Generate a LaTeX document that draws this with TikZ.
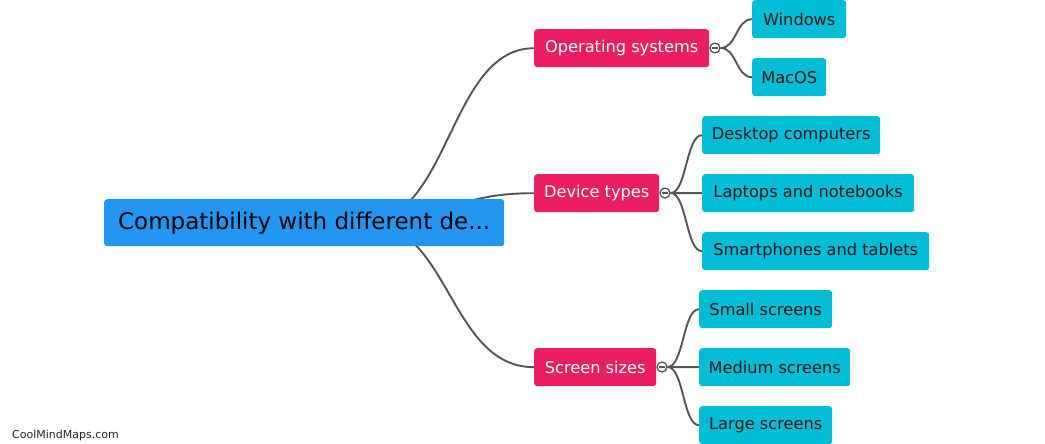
\documentclass[tikz,border=0pt]{standalone}
\usepackage{fontspec}
\setmainfont{DejaVu Sans}
\usetikzlibrary{backgrounds}
\definecolor{rootc}{HTML}{2196F3}
\definecolor{midc}{HTML}{E91E63}
\definecolor{leafc}{HTML}{00BCD4}
\definecolor{linec}{HTML}{555555}
\begin{document}
\begin{tikzpicture}[x=1pt,y=-1pt,
  box/.style={rounded corners=3pt, inner sep=0pt, anchor=north west, minimum height=38pt},
  rootbox/.style={box, fill=rootc, text=black, minimum height=47pt, font=\fontsize{23}{27}\selectfont},
  midbox/.style={box, fill=midc, text=white, font=\fontsize{16.2}{19}\selectfont},
  leafbox/.style={box, fill=leafc, text=black!90, font=\fontsize{16.2}{19}\selectfont},
  conn/.style={draw=linec, line width=1.9pt},
  toggle/.style={circle, draw=linec, fill=white, line width=1.3pt, minimum size=10pt, inner sep=0pt},
  minusbar/.style={draw=linec, line width=1.4pt}
]
\useasboundingbox (0,0) rectangle (1045,444);

\node[rootbox, minimum width=400pt] (root) at (104,199) {Compatibility with different de...};

\node[midbox, minimum width=175pt] (os) at (534,29) {Operating systems};
\node[midbox, minimum width=125pt] (dev) at (534,174) {Device types};
\node[midbox, minimum width=122pt] (scr) at (534,348) {Screen sizes};

\node[toggle] (t1) at (715,48) {};
\node[toggle] (t2) at (665,193) {};
\node[toggle] (t3) at (662,367) {};
\foreach \t in {t1,t2,t3}{
  \draw[minusbar] ([xshift=-2.6pt]\t.center) -- ([xshift=2.6pt]\t.center);
}

\node[leafbox, minimum width=94pt] (win) at (752,0) {Windows};
\node[leafbox, minimum width=74pt] (mac) at (752,58) {MacOS};
\node[leafbox, minimum width=178pt] (desk) at (702,116) {Desktop computers};
\node[leafbox, minimum width=212pt] (lap) at (702,174) {Laptops and notebooks};
\node[leafbox, minimum width=227pt] (phone) at (702,232) {Smartphones and tablets};
\node[leafbox, minimum width=133pt] (small) at (699,290) {Small screens};
\node[leafbox, minimum width=151pt] (med) at (699,348) {Medium screens};
\node[leafbox, minimum width=133pt] (large) at (699,406) {Large screens};

\node[anchor=west, inner sep=0pt, font=\fontsize{11}{13}\selectfont, text=black!85] (wm) at (12,435) {CoolMindMaps.com};

\coordinate (rs) at (365,222);

\begin{scope}[on background layer]
  \draw[conn] (rs) .. controls +(85,0) and +(-85,0) .. (os.west);
  \draw[conn] (rs) .. controls +(85,0) and +(-85,0) .. (dev.west);
  \draw[conn] (rs) .. controls +(85,0) and +(-85,0) .. (scr.west);
  \foreach \c in {win,mac}{
    \draw[conn] (t1.east) .. controls +(16,0) and +(-16,0) .. (\c.west);
  }
  \foreach \c in {desk,lap,phone}{
    \draw[conn] (t2.east) .. controls +(16,0) and +(-16,0) .. (\c.west);
  }
  \foreach \c in {small,med,large}{
    \draw[conn] (t3.east) .. controls +(16,0) and +(-16,0) .. (\c.west);
  }
\end{scope}
\end{tikzpicture}
\end{document}
